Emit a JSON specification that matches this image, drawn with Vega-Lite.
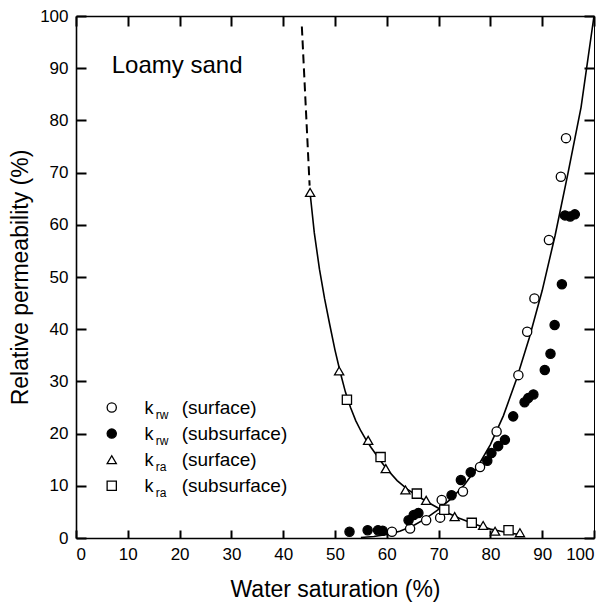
{
  "$schema": "https://vega.github.io/schema/vega-lite/v6.json",
  "width": 518,
  "height": 522,
  "autosize": "none",
  "padding": {"left": 76, "top": 16, "right": 10, "bottom": 64},
  "background": "white",
  "config": {
    "view": {"stroke": null},
    "font": "Liberation Sans",
    "axis": {
      "domainColor": "black",
      "tickColor": "black",
      "labelColor": "black",
      "titleColor": "black",
      "domainWidth": 1.6,
      "labelFont": "Liberation Sans",
      "titleFont": "Liberation Sans",
      "labelFontSize": 17,
      "titleFontSize": 23,
      "titleFontWeight": "normal"
    }
  },
  "datasets": {
    "points": [
      {"s": 94.6, "k": 76.6, "series": "krw_surface"},
      {"s": 93.6, "k": 69.2, "series": "krw_surface"},
      {"s": 91.3, "k": 57.1, "series": "krw_surface"},
      {"s": 88.5, "k": 45.9, "series": "krw_surface"},
      {"s": 87.1, "k": 39.5, "series": "krw_surface"},
      {"s": 85.4, "k": 31.2, "series": "krw_surface"},
      {"s": 81.2, "k": 20.4, "series": "krw_surface"},
      {"s": 78.0, "k": 13.6, "series": "krw_surface"},
      {"s": 74.7, "k": 8.9, "series": "krw_surface"},
      {"s": 70.6, "k": 7.3, "series": "krw_surface"},
      {"s": 70.3, "k": 3.9, "series": "krw_surface"},
      {"s": 67.6, "k": 3.4, "series": "krw_surface"},
      {"s": 64.5, "k": 1.8, "series": "krw_surface"},
      {"s": 61.0, "k": 1.2, "series": "krw_surface"},
      {"s": 52.8, "k": 1.2, "series": "krw_subsurface"},
      {"s": 56.3, "k": 1.5, "series": "krw_subsurface"},
      {"s": 58.3, "k": 1.5, "series": "krw_subsurface"},
      {"s": 59.2, "k": 1.4, "series": "krw_subsurface"},
      {"s": 64.2, "k": 3.4, "series": "krw_subsurface"},
      {"s": 65.2, "k": 4.4, "series": "krw_subsurface"},
      {"s": 66.1, "k": 4.8, "series": "krw_subsurface"},
      {"s": 72.5, "k": 8.2, "series": "krw_subsurface"},
      {"s": 74.3, "k": 11.1, "series": "krw_subsurface"},
      {"s": 76.2, "k": 12.6, "series": "krw_subsurface"},
      {"s": 79.4, "k": 14.8, "series": "krw_subsurface"},
      {"s": 80.2, "k": 16.3, "series": "krw_subsurface"},
      {"s": 81.5, "k": 17.6, "series": "krw_subsurface"},
      {"s": 82.8, "k": 18.8, "series": "krw_subsurface"},
      {"s": 84.4, "k": 23.3, "series": "krw_subsurface"},
      {"s": 86.6, "k": 26.0, "series": "krw_subsurface"},
      {"s": 87.3, "k": 26.8, "series": "krw_subsurface"},
      {"s": 88.3, "k": 27.5, "series": "krw_subsurface"},
      {"s": 90.5, "k": 32.2, "series": "krw_subsurface"},
      {"s": 91.6, "k": 35.3, "series": "krw_subsurface"},
      {"s": 92.4, "k": 40.8, "series": "krw_subsurface"},
      {"s": 93.8, "k": 48.6, "series": "krw_subsurface"},
      {"s": 94.4, "k": 61.8, "series": "krw_subsurface"},
      {"s": 95.4, "k": 61.6, "series": "krw_subsurface"},
      {"s": 96.3, "k": 62.0, "series": "krw_subsurface"},
      {"s": 45.2, "k": 66.2, "series": "kra_surface"},
      {"s": 50.8, "k": 32.0, "series": "kra_surface"},
      {"s": 56.4, "k": 18.7, "series": "kra_surface"},
      {"s": 59.8, "k": 13.3, "series": "kra_surface"},
      {"s": 63.6, "k": 9.2, "series": "kra_surface"},
      {"s": 67.6, "k": 7.2, "series": "kra_surface"},
      {"s": 73.1, "k": 4.1, "series": "kra_surface"},
      {"s": 78.6, "k": 2.4, "series": "kra_surface"},
      {"s": 80.9, "k": 1.3, "series": "kra_surface"},
      {"s": 85.7, "k": 1.0, "series": "kra_surface"},
      {"s": 52.3, "k": 26.5, "series": "kra_subsurface"},
      {"s": 58.8, "k": 15.5, "series": "kra_subsurface"},
      {"s": 65.8, "k": 8.5, "series": "kra_subsurface"},
      {"s": 71.1, "k": 5.4, "series": "kra_subsurface"},
      {"s": 76.4, "k": 2.9, "series": "kra_subsurface"},
      {"s": 83.5, "k": 1.5, "series": "kra_subsurface"}
    ],
    "krw": [
      {"s": 55, "k": 0.1}, {"s": 57.5, "k": 0.3}, {"s": 60, "k": 0.7},
      {"s": 62.5, "k": 1.3}, {"s": 65, "k": 2.3}, {"s": 67.5, "k": 3.7},
      {"s": 70, "k": 5.5}, {"s": 72.5, "k": 7.6}, {"s": 75, "k": 10.2},
      {"s": 77.5, "k": 13.6}, {"s": 80, "k": 17.9}, {"s": 82.5, "k": 23.4},
      {"s": 85, "k": 30.3}, {"s": 87.5, "k": 38.3}, {"s": 90, "k": 47.4},
      {"s": 92.5, "k": 58.0}, {"s": 95, "k": 70.0}, {"s": 97.5, "k": 82.5},
      {"s": 100, "k": 100}
    ],
    "kra": [
      {"s": 45.2, "k": 66}, {"s": 46, "k": 58.5}, {"s": 47, "k": 51.5},
      {"s": 48, "k": 45.8}, {"s": 49, "k": 40.8}, {"s": 50, "k": 36},
      {"s": 51, "k": 31.8}, {"s": 52, "k": 28}, {"s": 53, "k": 25},
      {"s": 54, "k": 22.5}, {"s": 55, "k": 20.5}, {"s": 56, "k": 18.8},
      {"s": 57, "k": 17.3}, {"s": 58, "k": 15.9}, {"s": 59, "k": 14.5},
      {"s": 60, "k": 13.2}, {"s": 62, "k": 11}, {"s": 64, "k": 9.3},
      {"s": 66, "k": 8}, {"s": 68, "k": 6.8}, {"s": 70, "k": 5.7},
      {"s": 72, "k": 4.7}, {"s": 74, "k": 3.8}, {"s": 76, "k": 3.0},
      {"s": 78, "k": 2.3}, {"s": 80, "k": 1.7}, {"s": 82, "k": 1.3},
      {"s": 84, "k": 0.9}, {"s": 86, "k": 0.6}
    ],
    "kraDash": [
      {"s": 43.6, "k": 98}, {"s": 45.1, "k": 67.5}
    ],
    "legend": [
      {"series": "krw_surface", "sym": "k", "sub": "rw", "desc": "(surface)"},
      {"series": "krw_subsurface", "sym": "k", "sub": "rw", "desc": "(subsurface)"},
      {"series": "kra_surface", "sym": "k", "sub": "ra", "desc": "(surface)"},
      {"series": "kra_subsurface", "sym": "k", "sub": "ra", "desc": "(subsurface)"}
    ]
  },
  "layer": [
    {
      "data": {"name": "kra"},
      "mark": {"type": "line", "color": "black", "strokeWidth": 1.6},
      "encoding": {
        "x": {
          "field": "s", "type": "quantitative",
          "scale": {"domain": [0, 100], "nice": false, "zero": false},
          "axis": {"orient": "bottom", "values": [0,10,20,30,40,50,60,70,80,90,100], "ticks": false, "tickSize": 0, "labelPadding": 8, "title": "Water saturation (%)", "titlePadding": 16,
            "grid": true, "gridColor": "#000000", "gridOpacity": 1, "gridWidth": 2, "gridDash": [10, 504, 8, 200]}
        },
        "y": {
          "field": "k", "type": "quantitative",
          "scale": {"domain": [0, 100], "nice": false, "zero": false},
          "axis": {"orient": "left", "values": [0,10,20,30,40,50,60,70,80,90,100], "ticks": false, "tickSize": 0, "labelPadding": 8, "title": "Relative permeability (%)", "titlePadding": 7,
            "grid": true, "gridColor": "#000000", "gridOpacity": 1, "gridWidth": 2, "gridDash": [10, 498, 10, 200]}
        }
      }
    },
    {
      "data": {"name": "krw"},
      "mark": {"type": "line", "color": "black", "strokeWidth": 1.6},
      "encoding": {
        "x": {
          "field": "s", "type": "quantitative",
          "axis": {"orient": "top", "ticks": false, "labels": false, "title": null, "grid": false}
        },
        "y": {
          "field": "k", "type": "quantitative",
          "axis": {"orient": "right", "ticks": false, "labels": false, "title": null, "grid": false, "domainWidth": 1}
        }
      }
    },
    {
      "data": {"name": "kraDash"},
      "mark": {"type": "line", "color": "black", "strokeWidth": 2, "strokeDash": [9, 5]},
      "encoding": {
        "x": {"field": "s", "type": "quantitative", "axis": null},
        "y": {"field": "k", "type": "quantitative", "axis": null}
      }
    },
    {
      "data": {"name": "points"},
      "mark": {"type": "point", "filled": true, "opacity": 1, "stroke": "black", "strokeWidth": 1.3},
      "encoding": {
        "x": {"field": "s", "type": "quantitative", "axis": null},
        "y": {"field": "k", "type": "quantitative", "axis": null},
        "shape": {"field": "series", "type": "nominal", "scale": {"domain": ["krw_surface", "krw_subsurface", "kra_surface", "kra_subsurface"], "range": ["circle", "circle", "triangle-up", "square"]}, "legend": null},
        "fill": {"field": "series", "type": "nominal", "scale": {"domain": ["krw_surface", "krw_subsurface", "kra_surface", "kra_subsurface"], "range": ["white", "black", "white", "white"]}, "legend": null},
        "size": {"field": "series", "type": "nominal", "scale": {"domain": ["krw_surface", "krw_subsurface", "kra_surface", "kra_subsurface"], "range": [85, 85, 95, 90]}, "legend": null}
      }
    },
    {
      "data": {"values": [{"label": "Loamy sand"}]},
      "mark": {"type": "text", "align": "left", "baseline": "alphabetic", "fontSize": 24, "fill": "black"},
      "encoding": {
        "x": {"datum": 6.9, "type": "quantitative", "axis": null},
        "y": {"datum": 89.1, "type": "quantitative", "axis": null},
        "text": {"field": "label"}
      }
    },
    {
      "data": {"name": "legend"},
      "transform": [{"filter": "datum.series === 'krw_surface'"}],
      "encoding": {"y": {"datum": 25, "type": "quantitative", "axis": null}},
      "layer": [
        {"mark": {"type": "point", "filled": true, "opacity": 1, "stroke": "black", "strokeWidth": 1.3},
         "encoding": {"x": {"datum": 6.9, "type": "quantitative", "axis": null},
           "shape": {"field": "series", "type": "nominal", "legend": null},
           "fill": {"field": "series", "type": "nominal", "legend": null},
           "size": {"field": "series", "type": "nominal", "legend": null}}},
        {"mark": {"type": "text", "align": "left", "baseline": "alphabetic", "dy": 6, "fontSize": 18, "fill": "black"},
         "encoding": {"x": {"datum": 13.2, "type": "quantitative", "axis": null}, "text": {"field": "sym"}}},
        {"mark": {"type": "text", "align": "left", "baseline": "alphabetic", "dy": 11, "fontSize": 12, "fill": "black"},
         "encoding": {"x": {"datum": 15.4, "type": "quantitative", "axis": null}, "text": {"field": "sub"}}},
        {"mark": {"type": "text", "align": "left", "baseline": "alphabetic", "dy": 6, "fontSize": 19, "fill": "black"},
         "encoding": {"x": {"datum": 20.4, "type": "quantitative", "axis": null}, "text": {"field": "desc"}}}
      ]
    },
    {
      "data": {"name": "legend"},
      "transform": [{"filter": "datum.series === 'krw_subsurface'"}],
      "encoding": {"y": {"datum": 20, "type": "quantitative", "axis": null}},
      "layer": [
        {"mark": {"type": "point", "filled": true, "opacity": 1, "stroke": "black", "strokeWidth": 1.3},
         "encoding": {"x": {"datum": 6.9, "type": "quantitative", "axis": null},
           "shape": {"field": "series", "type": "nominal", "legend": null},
           "fill": {"field": "series", "type": "nominal", "legend": null},
           "size": {"field": "series", "type": "nominal", "legend": null}}},
        {"mark": {"type": "text", "align": "left", "baseline": "alphabetic", "dy": 6, "fontSize": 18, "fill": "black"},
         "encoding": {"x": {"datum": 13.2, "type": "quantitative", "axis": null}, "text": {"field": "sym"}}},
        {"mark": {"type": "text", "align": "left", "baseline": "alphabetic", "dy": 11, "fontSize": 12, "fill": "black"},
         "encoding": {"x": {"datum": 15.4, "type": "quantitative", "axis": null}, "text": {"field": "sub"}}},
        {"mark": {"type": "text", "align": "left", "baseline": "alphabetic", "dy": 6, "fontSize": 19, "fill": "black"},
         "encoding": {"x": {"datum": 20.4, "type": "quantitative", "axis": null}, "text": {"field": "desc"}}}
      ]
    },
    {
      "data": {"name": "legend"},
      "transform": [{"filter": "datum.series === 'kra_surface'"}],
      "encoding": {"y": {"datum": 15, "type": "quantitative", "axis": null}},
      "layer": [
        {"mark": {"type": "point", "filled": true, "opacity": 1, "stroke": "black", "strokeWidth": 1.3},
         "encoding": {"x": {"datum": 6.9, "type": "quantitative", "axis": null},
           "shape": {"field": "series", "type": "nominal", "legend": null},
           "fill": {"field": "series", "type": "nominal", "legend": null},
           "size": {"field": "series", "type": "nominal", "legend": null}}},
        {"mark": {"type": "text", "align": "left", "baseline": "alphabetic", "dy": 6, "fontSize": 18, "fill": "black"},
         "encoding": {"x": {"datum": 13.2, "type": "quantitative", "axis": null}, "text": {"field": "sym"}}},
        {"mark": {"type": "text", "align": "left", "baseline": "alphabetic", "dy": 11, "fontSize": 12, "fill": "black"},
         "encoding": {"x": {"datum": 15.4, "type": "quantitative", "axis": null}, "text": {"field": "sub"}}},
        {"mark": {"type": "text", "align": "left", "baseline": "alphabetic", "dy": 6, "fontSize": 19, "fill": "black"},
         "encoding": {"x": {"datum": 20.4, "type": "quantitative", "axis": null}, "text": {"field": "desc"}}}
      ]
    },
    {
      "data": {"name": "legend"},
      "transform": [{"filter": "datum.series === 'kra_subsurface'"}],
      "encoding": {"y": {"datum": 10, "type": "quantitative", "axis": null}},
      "layer": [
        {"mark": {"type": "point", "filled": true, "opacity": 1, "stroke": "black", "strokeWidth": 1.3},
         "encoding": {"x": {"datum": 6.9, "type": "quantitative", "axis": null},
           "shape": {"field": "series", "type": "nominal", "legend": null},
           "fill": {"field": "series", "type": "nominal", "legend": null},
           "size": {"field": "series", "type": "nominal", "legend": null}}},
        {"mark": {"type": "text", "align": "left", "baseline": "alphabetic", "dy": 6, "fontSize": 18, "fill": "black"},
         "encoding": {"x": {"datum": 13.2, "type": "quantitative", "axis": null}, "text": {"field": "sym"}}},
        {"mark": {"type": "text", "align": "left", "baseline": "alphabetic", "dy": 11, "fontSize": 12, "fill": "black"},
         "encoding": {"x": {"datum": 15.4, "type": "quantitative", "axis": null}, "text": {"field": "sub"}}},
        {"mark": {"type": "text", "align": "left", "baseline": "alphabetic", "dy": 6, "fontSize": 19, "fill": "black"},
         "encoding": {"x": {"datum": 20.4, "type": "quantitative", "axis": null}, "text": {"field": "desc"}}}
      ]
    }
  ],
  "resolve": {"axis": {"x": "independent", "y": "independent"}}
}
